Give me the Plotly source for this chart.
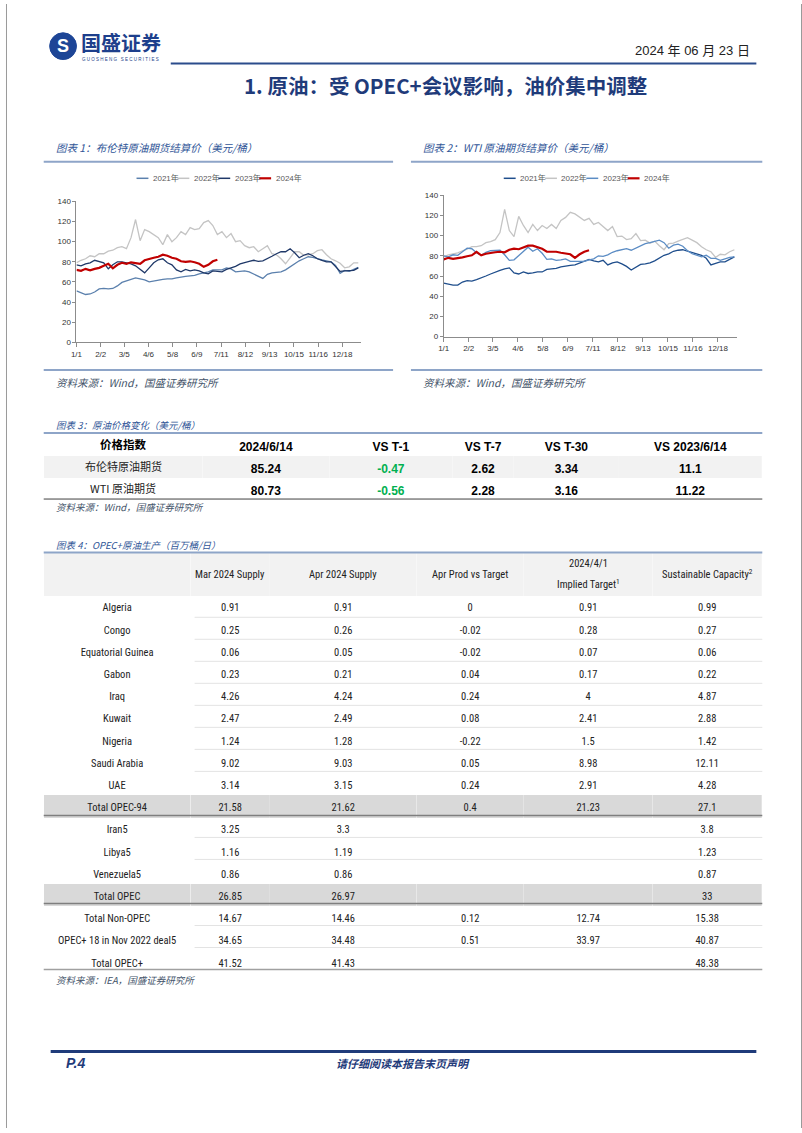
import plotly.graph_objects as go

# ---------------- data ----------------
grid_x = list(range(0, 373, 6))          # trading-day index (category position)
tick_vals = [0, 32, 63, 95, 127, 159, 191, 223, 255, 287, 319, 351]
tick_text = ["1/1", "2/2", "3/5", "4/6", "5/8", "6/9", "7/11", "8/12", "9/13", "10/15", "11/16", "12/18"]
years = ["2021年", "2022年", "2023年", "2024年"]

brent_2021 = [51, 49, 47.5, 48, 50, 53, 53.5, 53, 53.5, 56, 59.5, 61, 62.5, 64, 63, 62, 60, 61, 62, 62.5,
              63, 63, 64, 65, 65.5, 66, 66.5, 68, 69, 70, 72, 72, 72, 74, 73, 70, 70.5, 71, 70, 68,
              66, 63.5, 67.5, 69, 69.5, 70, 72, 75, 78, 81, 83, 85, 84.5, 83, 82, 81, 80, 76.5, 68.5, 71.5,
              70.5, 72.5, 74.5]
brent_2022 = [79, 81.5, 83, 86, 85, 88, 88, 90.5, 91.5, 94, 95, 93, 104, 122, 101, 112, 110, 107, 104, 97,
              107, 100, 104, 110, 107, 114, 112, 113, 119, 121, 116, 107, 110, 104, 108, 100, 101, 96, 94, 95,
              90, 93, 96, 88, 87, 83, 78, 84, 90, 90, 86.5, 87, 88, 91, 92, 87, 83, 81, 78.5, 74,
              75, 79, 79]
brent_2023 = [77, 76, 78, 79, 81.5, 80, 79, 73, 77, 80, 80, 79, 78, 76, 72, 69, 74, 79, 82, 83,
              79, 77, 72, 70, 72.5, 71, 72, 71, 69, 68, 71, 70.5, 70, 72.5, 74, 75.5, 78, 79.5, 80.5, 81.5,
              80.5, 81, 83, 85.5, 88, 90, 90, 93, 89, 84, 86.5, 88, 86, 83, 81.5, 80, 80, 75, 70.5, 71,
              71.5, 71.5, 74]
brent_2024 = [72, 71, 73, 71.5, 73, 74, 76, 78, 73.5, 77, 79, 78, 79.5, 79, 78, 81.5, 83, 84, 85, 87,
              86, 84, 83, 80.5, 80, 80.5, 79.5, 78, 75, 77, 80.5, 82]

wti_2021 = [53, 52, 51, 51, 54, 55.5, 55, 56.5, 58, 60, 62, 64, 65.5, 67, 68, 63, 62, 64, 62.5, 63,
            64, 64, 66.5, 67, 67.5, 69, 70, 70.5, 71, 73, 75, 76.5, 75, 74, 75.5, 71, 73, 74, 72, 69.5,
            66, 69, 71.5, 72, 73, 75, 78, 80.5, 82, 84.5, 85.5, 86, 84.5, 83, 82, 80.5, 77.5, 71, 72.5, 74,
            74, 76.5, 79]
wti_2022 = [79, 81, 82, 83, 85, 86.5, 89, 89, 90, 93, 94, 96, 103, 126, 105, 99, 119, 110, 103, 111,
            105, 110, 107, 111, 107, 115, 118, 123, 121.5, 118, 115, 117, 111, 113, 109, 105, 109, 99, 99.5, 96,
            97, 102, 95, 95.5, 92.5, 94.5, 90, 86, 92, 92.5, 94.5, 96, 98, 95.5, 93, 89, 86, 84, 78.5, 81.5,
            81, 84, 86]
wti_2023 = [80, 79, 81, 80.5, 84, 87.5, 87, 83, 80.5, 83.5, 85, 85.5, 85.5, 81, 75.5, 76, 80.5, 84, 88.5, 84.5,
            87, 82.5, 76.5, 77, 75.5, 76, 77, 74.5, 74.5, 75, 74.5, 76, 77, 80, 79.5, 81, 83.5, 85, 86, 87,
            85.5, 87.5, 90, 92, 93, 94.5, 95.5, 93, 87.5, 90.5, 91.5, 89.5, 85, 82, 80.5, 79, 80.5, 77.5, 77.5, 75.5,
            77, 78.5, 79]
wti_2024 = [76.5, 78, 77, 77.5, 78.5, 79.5, 80.5, 84, 80.5, 82, 83, 83.5, 84, 83.5, 86, 87, 86.5, 88.5, 90, 90,
            88.5, 87, 84, 84, 84, 83, 82, 81.5, 78, 81.5, 84, 85.5]

# table 3
t3_header = ["价格指数", "2024/6/14", "VS T-1", "VS T-7", "VS T-30", "VS 2023/6/14"]
t3_names = ["布伦特原油期货", "WTI 原油期货"]
t3_price = [85.24, 80.73]
t3_t1 = [-0.47, -0.56]
t3_t7 = [2.62, 2.28]
t3_t30 = [3.34, 3.16]
t3_yoy = [11.1, 11.22]

# table 4
t4_rows = ["Algeria", "Congo", "Equatorial Guinea", "Gabon", "Iraq", "Kuwait", "Nigeria", "Saudi Arabia", "UAE",
           "Total OPEC-94", "Iran5", "Libya5", "Venezuela5", "Total OPEC", "Total Non-OPEC",
           "OPEC+ 18 in Nov 2022 deal5", "Total OPEC+"]
t4_mar = [0.91, 0.25, 0.06, 0.23, 4.26, 2.47, 1.24, 9.02, 3.14, 21.58, 3.25, 1.16, 0.86, 26.85, 14.67, 34.65, 41.52]
t4_apr = [0.91, 0.26, 0.05, 0.21, 4.24, 2.49, 1.28, 9.03, 3.15, 21.62, 3.3, 1.19, 0.86, 26.97, 14.46, 34.48, 41.43]
t4_vs = [0, -0.02, -0.02, 0.04, 0.24, 0.08, -0.22, 0.05, 0.24, 0.4, None, None, None, None, 0.12, 0.51, None]
t4_target = [0.91, 0.28, 0.07, 0.17, 4, 2.41, 1.5, 8.98, 2.91, 21.23, None, None, None, None, 12.74, 33.97, None]
t4_cap = [0.99, 0.27, 0.06, 0.22, 4.87, 2.88, 1.42, 12.11, 4.28, 27.1, 3.8, 1.23, 0.87, 33, 15.38, 40.87, 48.38]
t4_total_rows = ["Total OPEC-94", "Total OPEC"]

# ---------------- helpers ----------------
W, H = 802, 1133
def X(px): return px / W
def Y(py): return 1 - py / H

LAT = "Liberation Sans, Arial, Noto Sans CJK SC"
CJK = "Noto Sans CJK SC, Liberation Sans"
NARROW = "Liberation Sans Narrow, Arial Narrow, Roboto Condensed, Liberation Sans"
NAVY = "#1f3b7a"
TITLE_BLUE = "#2f5597"
SRC = "#44546a"
RULE = "#8ea5c8"

shapes, annos = [], []

def hline(x0, x1, y, color, width):
    shapes.append(dict(type="line", xref="paper", yref="paper", x0=X(x0), x1=X(x1), y0=Y(y), y1=Y(y),
                       line=dict(color=color, width=width)))

def text(x, y, s, size, color="#000", family=CJK, xanchor="left", italic=False, bold=False):
    annos.append(dict(x=X(x), y=Y(y), xref="paper", yref="paper", text=s, showarrow=False,
                      xanchor=xanchor, yanchor="middle",
                      font=dict(size=size, color=color, family=family,
                                style="italic" if italic else "normal",
                                weight="bold" if bold else "normal")))

def col_centers(widths, x0=38, x1=762):
    edges = [x0]
    for w in widths:
        edges.append(edges[-1] + w * ((x1 - x0) / sum(widths)))
    return [(edges[i] + edges[i + 1]) / 2 for i in range(len(widths))]

fig = go.Figure()

# ---------------- line charts ----------------
charts = [
    dict(ax="", series=[brent_2021, brent_2022, brent_2023, brent_2024],
         colors=["#5b80ad", "#c4c4c4", "#1f3868", "#c00000"],
         xdom=(71, 358), ydom=(341, 199), leg_x=131.5, leg_step=41.2),
    dict(ax="2", series=[wti_2021, wti_2022, wti_2023, wti_2024],
         colors=["#1f4e8c", "#c4c4c4", "#5b8cc4", "#c00000"],
         xdom=(441, 737), ydom=(335.3, 192.7), leg_x=501.5, leg_step=41.6),
]
for ch in charts:
    for name, ys, col in zip(years, ch["series"], ch["colors"]):
        fig.add_trace(go.Scatter(x=grid_x[:len(ys)], y=ys, mode="lines", name=name, showlegend=False,
                                 line=dict(color=col, width=2.2 if name == "2024年" else 1.3),
                                 xaxis="x" + ch["ax"], yaxis="y" + ch["ax"], hoverinfo="skip"))
    xa = dict(domain=[X(ch["xdom"][0]), X(ch["xdom"][1])], range=[0, 376], tickvals=tick_vals, ticktext=tick_text,
              ticks="outside", ticklen=4, tickcolor="#8c8c8c", showline=True, linecolor="#8c8c8c", linewidth=1,
              showgrid=False, zeroline=False, tickfont=dict(size=8, color="#333", family=LAT),
              anchor="y" + ch["ax"], fixedrange=True)
    ya = dict(domain=[Y(ch["ydom"][0]), Y(ch["ydom"][1])], range=[0, 140], dtick=20,
              ticks="outside", ticklen=3, tickcolor="#8c8c8c", showline=True, linecolor="#8c8c8c", linewidth=1,
              showgrid=False, zeroline=False, tickfont=dict(size=8, color="#333", family=LAT),
              anchor="x" + ch["ax"], fixedrange=True)
    fig.update_layout(**{"xaxis" + ch["ax"]: xa, "yaxis" + ch["ax"]: ya})
    # legend
    for i, (name, col) in enumerate(zip(years, ch["colors"])):
        x0 = ch["leg_x"] + i * ch["leg_step"]
        hline(x0, x0 + 12, 175.7, col, 2.2 if name == "2024年" else 1.5)
        text(x0 + 14.5, 175.7, name, 8, "#595959", LAT)

# ---------------- table 3 ----------------
t3_widths = [160, 128, 124, 62, 106, 144]
t3_c = col_centers(t3_widths)
g1, wh = "#f2f2f2", "#ffffff"
t3_fill = [[g1, wh] for _ in t3_widths]
t3_fontcol = [["#000"] * 2, ["#000"] * 2, ["#00b050"] * 2, ["#000"] * 2, ["#000"] * 2, ["#000"] * 2]
fmt = lambda vals: ["" if v is None else f"{v}" for v in vals]
fig.add_trace(go.Table(
    domain=dict(x=[X(38), X(762)], y=[Y(530), Y(433)]),
    columnwidth=t3_widths,
    header=dict(values=[""] + t3_header[1:], height=22, fill_color="white",
                line=dict(color="white", width=0),
                align="center", font=dict(size=12, color="#000", family=LAT, weight="bold")),
    cells=dict(values=[[""] * len(t3_names), fmt(t3_price), fmt(t3_t1), fmt(t3_t7), fmt(t3_t30), fmt(t3_yoy)],
               height=22, fill_color=t3_fill, line=dict(color=t3_fill, width=0), align="center",
               font=dict(size=12, color=t3_fontcol, family=LAT, weight="bold")),
))
text(t3_c[0], 444, "<b>" + t3_header[0] + "</b>", 11.5, "#000", CJK, "center")
for i, nm in enumerate(t3_names):
    text(t3_c[0], 466 + 22 * i, nm, 11, "#222", CJK, "center")

# ---------------- table 4 ----------------
t4_widths = [148, 80, 148, 108, 130, 110]
row_h = 22.19
t4_fill_col = ["#d9d9d9" if r in t4_total_rows else "#ffffff" for r in t4_rows]
t4_fill = [t4_fill_col for _ in t4_widths]
fig.add_trace(go.Table(
    domain=dict(x=[X(38), X(762)], y=[Y(990), Y(553)]),
    columnwidth=t4_widths,
    header=dict(values=[" "] * 6, height=43, fill_color="#f2f2f2", line=dict(color="#f2f2f2", width=0),
                font=dict(size=10.5)),
    cells=dict(values=[t4_rows, fmt(t4_mar), fmt(t4_apr), fmt(t4_vs), fmt(t4_target), fmt(t4_cap)],
               height=row_h, fill_color=t4_fill, line=dict(color=t4_fill, width=0), align="center",
               font=dict(size=10.5, color="#222", family=NARROW)),
))
centers = col_centers(t4_widths)
text(centers[1], 575, "Mar 2024 Supply", 10.5, "#222", NARROW, "center")
text(centers[2], 575, "Apr 2024 Supply", 10.5, "#222", NARROW, "center")
text(centers[3], 575, "Apr Prod vs Target", 10.5, "#222", NARROW, "center")
text(centers[4], 564, "2024/4/1", 10.5, "#222", NARROW, "center")
text(centers[4], 585, "Implied Target<sup>1</sup>", 10.5, "#222", NARROW, "center")
text(centers[5], 575, "Sustainable Capacity<sup>2</sup>", 10.5, "#222", NARROW, "center")
# row separators
top = 596
for i, r in enumerate(t4_rows):
    yb = top + row_h * (i + 1)
    if i == len(t4_rows) - 1:
        hline(38, 762, yb, "#a0a0a0", 1.5)
    elif r in t4_total_rows:
        hline(38, 762, yb, "#7f7f7f", 1.5)
    elif t4_rows[i + 1] not in t4_total_rows:
        hline(190, 762, yb, "#e3e3e3", 1)

# ---------------- page furniture ----------------
shapes.append(dict(type="line", xref="paper", yref="paper", x0=X(0.5), x1=X(0.5), y0=0, y1=1,
                   line=dict(color="#9a9a9a", width=1)))
shapes.append(dict(type="line", xref="paper", yref="paper", x0=X(801.5), x1=X(801.5), y0=0, y1=1,
                   line=dict(color="#9a9a9a", width=1)))
# logo
shapes.append(dict(type="circle", xref="paper", yref="paper", x0=X(44), x1=X(71), y0=Y(56), y1=Y(29),
                   fillcolor="#1d4596", line=dict(color="#1d4596", width=1)))
text(57.5, 42.5, "<b>S</b>", 18, "white", LAT, "center")
text(74, 38.5, "<b>国盛证券</b>", 20, "#1d3f8c", CJK)
text(75, 55.5, "G U O S H E N G   S E C U R I T I E S", 4.5, "#1d3f8c", LAT)
text(752, 47, "2024 年 06 月 23 日", 13, "#222", "Liberation Sans, Noto Sans CJK SC", "right")
hline(166, 756, 60, "#2b4c8c", 2)
text(443, 82, "<b>1. 原油：受 OPEC+会议影响，油价集中调整</b>", 20.5, NAVY, "Noto Sans CJK SC", "center")

# chart titles / rules / sources
text(48, 145, "图表 1：布伦特原油期货结算价（美元/桶）", 10.5, TITLE_BLUE, CJK, italic=True)
text(418, 145, "图表 2：WTI 原油期货结算价（美元/桶）", 10.5, TITLE_BLUE, CJK, italic=True)
hline(38, 390, 159, RULE, 2)
hline(408, 762, 159, RULE, 2)
hline(38, 390, 369, RULE, 2)
hline(408, 762, 369, RULE, 2)
text(48, 382, "资料来源：Wind，国盛证券研究所", 10.5, SRC, CJK, italic=True)
text(418, 382, "资料来源：Wind，国盛证券研究所", 10.5, SRC, CJK, italic=True)

text(48, 424, "图表 3：原油价格变化（美元/桶）", 9.5, TITLE_BLUE, CJK, italic=True)
hline(38, 762, 432.5, RULE, 2)
hline(38, 762, 499, "#404040", 1)
text(48, 507, "资料来源：Wind，国盛证券研究所", 9.5, SRC, CJK, italic=True)

text(48, 545, "图表 4：OPEC+原油生产（百万桶/日）", 9.5, TITLE_BLUE, CJK, italic=True)
hline(38, 762, 553, RULE, 2)
text(48, 984, "资料来源：IEA，国盛证券研究所", 9.5, SRC, CJK, italic=True)

hline(45, 756, 1056, NAVY, 3)
text(58, 1067, "<b>P.4</b>", 14, NAVY, LAT, italic=True)
text(400, 1067, "<b>请仔细阅读本报告末页声明</b>", 11, NAVY, CJK, "center", italic=True)

fig.update_layout(width=W, height=H, margin=dict(l=0, r=0, t=0, b=0), autosize=False,
                  paper_bgcolor="white", plot_bgcolor="white", showlegend=False,
                  shapes=shapes, annotations=annos)
fig.write_html("out.html", config={"displayModeBar": False, "staticPlot": False},
               post_script="document.body.style.margin='0px';")
